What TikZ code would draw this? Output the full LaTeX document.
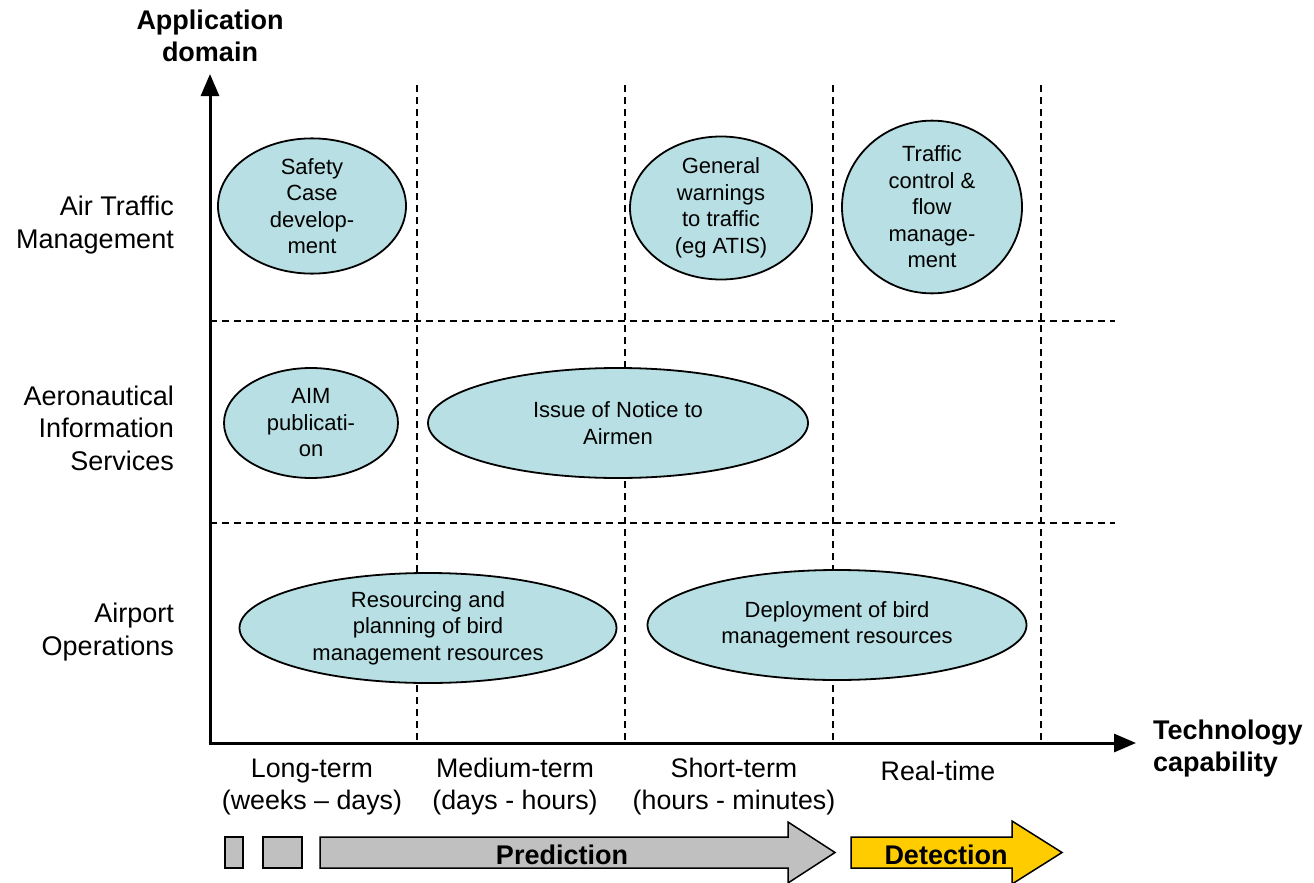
\documentclass[tikz,border=0pt]{standalone}
\usepackage{fontspec}
\setmainfont{Liberation Sans}
\usetikzlibrary{shapes.geometric,arrows.meta}
\definecolor{ellfill}{RGB}{184,223,227}
\definecolor{arrgrey}{RGB}{192,192,192}
\definecolor{arryel}{RGB}{255,204,0}
\tikzset{
  axisline/.style={line width=3pt,-{Triangle[length=22pt,width=18pt]}},
  gridline/.style={line width=1.8pt,dash pattern=on 7pt off 5pt},
  blob/.style={ellipse,draw,line width=1.8pt,fill=ellfill,inner sep=0pt,align=center,
    font=\fontsize{22}{26.5}\selectfont},
  sidelabel/.style={anchor=east,align=right,inner sep=0pt,font=\fontsize{27}{32.5}\selectfont},
  collabel/.style={align=center,inner sep=0pt,font=\fontsize{26.8}{32}\selectfont},
  title/.style={inner sep=0pt,font=\fontsize{27}{32}\selectfont\bfseries},
  barbox/.style={draw,line width=1.5pt,fill=arrgrey},
}
\begin{document}
\begin{tikzpicture}[x=1pt,y=-1pt]
\useasboundingbox (0,0) rectangle (1314,883);
% grid
\foreach \gx in {417,625,833,1041} \draw[gridline] (\gx,85) -- (\gx,743);
\foreach \gy in {321,523} \draw[gridline] (210,\gy) -- (1115,\gy);
% axes
\coordinate (origin) at (210,743);
\coordinate (ytip) at (210,74);
\coordinate (xtip) at (1136,743);
\coordinate (xstart) at (208.5,743);
\coordinate (ystart) at (210,744.5);
\draw[axisline] (ystart) -- (ytip);
\draw[axisline] (xstart) -- (xtip);
\node[title,align=center] (ytitle) at (210,36) {Application\\domain};
\node[title,align=left,anchor=west] (xtitle) at (1153,749) {Technology\\capability};
% side labels
\node[sidelabel] (atm) at (174,225) {Air Traffic\\Management};
\node[sidelabel] (ais) at (174,428) {Aeronautical\\Information\\Services};
\node[sidelabel] (apo) at (174,632) {Airport\\Operations};
% column labels
\node[collabel] (c1) at (312,787) {Long-term\\(weeks -- days)};
\node[collabel] (c2) at (515,787) {Medium-term\\(days - hours)};
\node[collabel] (c3) at (734,787) {Short-term\\(hours - minutes)};
\node[collabel,anchor=center] (c4) at (938,771) {Real-time};
% ellipses
\node[blob,minimum width=188pt,minimum height=132pt] (e1) at (312,206) {Safety\\Case\\develop-\\ment};
\node[blob,minimum width=182pt,minimum height=143pt] (e2) at (721,208) {General\\warnings\\to traffic\\(eg ATIS)};
\node[blob,minimum width=180pt,minimum height=150pt] (e3) at (932,207) {Traffic\\control \&\\flow\\manage-\\ment};
\node[blob,minimum width=174pt,minimum height=110pt] (e4) at (311,423) {AIM\\publicati-\\on};
\node[blob,minimum width=380pt,minimum height=110pt] (e5) at (618,423) {Issue of Notice to\\Airmen};
\node[blob,minimum width=377pt,minimum height=110pt] (e6) at (428,628) {Resourcing and\\planning of bird\\management resources};
\node[blob,minimum width=379pt,minimum height=110pt] (e7) at (837,625) {Deployment of bird\\management resources};
% bottom arrows
\draw[barbox] (225,837) rectangle (243,868);
\draw[barbox] (263,837) rectangle (302,868);
\draw[barbox,line join=miter] (320,837) -- (788,837) -- (788,822) -- (835,852.5) -- (788,883) -- (788,868) -- (320,868) -- cycle;
\draw[barbox,fill=arryel,line join=miter] (851,837) -- (1012,837) -- (1012,821) -- (1062,852.5) -- (1012,884) -- (1012,868) -- (851,868) -- cycle;
\node[title] (pred) at (562,855) {Prediction};
\node[title] (det) at (946,855) {Detection};
\end{tikzpicture}
\end{document}
